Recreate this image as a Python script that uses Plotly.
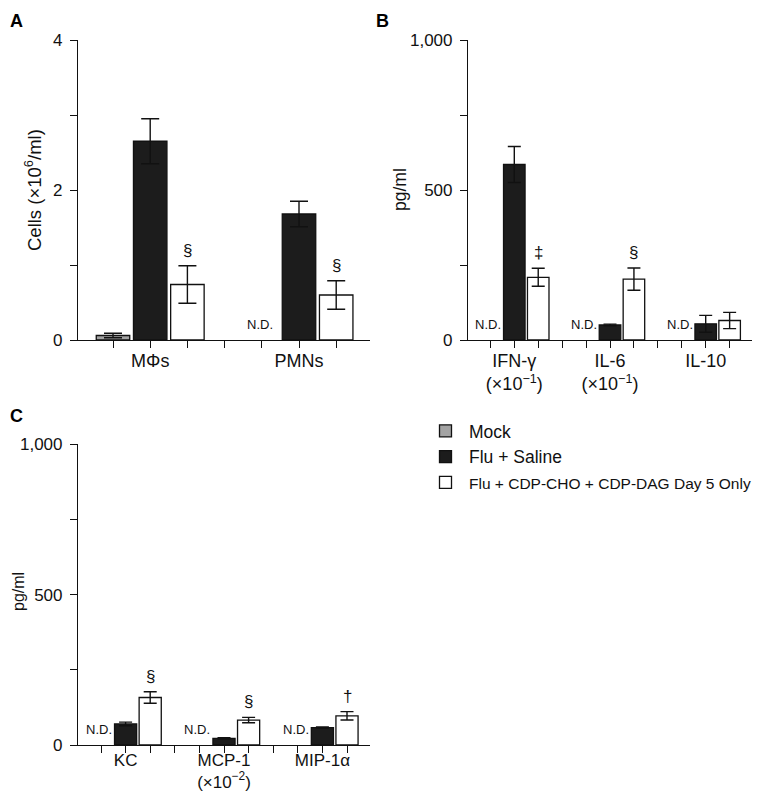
import plotly.graph_objects as go

FONT = "Liberation Sans, Arial, Helvetica, sans-serif"

series_names = ["Mock", "Flu + Saline", "Flu + CDP-CHO + CDP-DAG Day 5 Only"]
series_fill = ["#a3a3a3", "#1c1c1c", "#ffffff"]

# Panel A: BAL cells
cats_A = ["MΦs", "PMNs"]
mock_A = [0.06, None]
mock_A_err = [0.03, None]
flu_A = [2.65, 1.68]
flu_A_err = [0.30, 0.17]
cdp_A = [0.74, 0.60]
cdp_A_err = [0.25, 0.19]
sig_A = ["§", "§"]

# Panel B: cytokines
cats_B = ["IFN-γ<br>(×10<sup>−1</sup>)", "IL-6<br>(×10<sup>−1</sup>)", "IL-10"]
mock_B = [None, None, None]
mock_B_err = [None, None, None]
flu_B = [585, 50, 54]
flu_B_err = [60, 3, 28]
cdp_B = [209, 203, 65]
cdp_B_err = [30, 37, 27]
sig_B = ["‡", "§", ""]

# Panel C: chemokines
cats_C = ["KC", "MCP-1<br>(×10<sup>−2</sup>)", "MIP-1α"]
mock_C = [None, None, None]
mock_C_err = [None, None, None]
flu_C = [70, 22, 58]
flu_C_err = [6, 2, 2]
cdp_C = [158, 83, 97]
cdp_C_err = [19, 9, 14]
sig_C = ["§", "§", "†"]

# The page is 760x799 and the browser body keeps an 8px margin,
# so the figure is sized to fit inside it and positions are page pixels minus 8.
OFF = 8
W, H = 760 - 2 * OFF, 799 - 2 * OFF


def px_x(p):
    return min(1.0, max(0.0, (p - OFF) / W))


def px_y(p):
    return min(1.0, max(0.0, 1 - (p - OFF) / H))


fig = go.Figure()
annotations = []

panels = [
    ("x", "y", cats_A, [mock_A, flu_A, cdp_A], [mock_A_err, flu_A_err, cdp_A_err], sig_A, True, 9),
    ("x2", "y2", cats_B, [mock_B, flu_B, cdp_B], [mock_B_err, flu_B_err, cdp_B_err], sig_B, False, 6.5),
    ("x3", "y3", cats_C, [mock_C, flu_C, cdp_C], [mock_C_err, flu_C_err, cdp_C_err], sig_C, False, 6.5),
]

for xa, ya, cats, vals, errs, sigs, show_leg, capw in panels:
    ng = len(cats)
    for s in range(3):
        xs = [g * 4 + s for g in range(ng)]
        name = series_names[s]
        if s == 2:
            name = '<span style="font-size:15.5px">' + name + "</span>"
        fig.add_trace(go.Bar(
            x=xs, y=vals[s], width=0.9, name=name,
            xaxis=xa, yaxis=ya, showlegend=show_leg, legendgroup=str(s),
            marker=dict(color=series_fill[s], line=dict(color="#111111", width=1.3)),
            error_y=dict(type="data", array=errs[s], visible=True, color="#111111",
                         thickness=1.4, width=capw),
        ))
    for g in range(ng):
        if vals[0][g] is None:
            annotations.append(dict(
                x=g * 4, y=0, xref=xa, yref=ya, text="N.D.", showarrow=False,
                yanchor="bottom", xanchor="center", yshift=6, xshift=-2,
                font=dict(family=FONT, size=13, color="#111111")))
        if sigs[g]:
            annotations.append(dict(
                x=g * 4 + 2, y=vals[2][g] + errs[2][g], xref=xa, yref=ya, text=sigs[g],
                showarrow=False, yanchor="bottom", xanchor="center", yshift=4,
                font=dict(family=FONT, size=17, color="#111111")))


def xaxis_cfg(domain, cats, rng, fsize=18, standoff=-3):
    # labelled major ticks at the middle bar of each group, unlabelled minor ticks at every bar slot
    tickvals = [g * 4 + 1 for g in range(len(cats))]
    return dict(domain=domain, range=rng, tickmode="array", tickvals=tickvals, ticktext=cats,
                ticks="outside", ticklen=7, tickwidth=1.2, tickcolor="#111111",
                minor=dict(tick0=0, dtick=1, ticks="outside", ticklen=7, tickwidth=1.2,
                           tickcolor="#111111", showgrid=False),
                showline=True, linecolor="#111111", linewidth=1.2, tickangle=0,
                automargin=False,
                showgrid=False, zeroline=False, fixedrange=True, ticklabelstandoff=standoff,
                tickfont=dict(family=FONT, size=fsize, color="#111111"))


def yaxis_cfg(domain, rng, dtick, anchor, fmt=None):
    d = dict(domain=domain, range=rng, dtick=dtick, tick0=0, anchor=anchor,
             ticks="outside", ticklen=7, tickwidth=1.2, tickcolor="#111111",
             showline=True, linecolor="#111111", linewidth=1.2, automargin=False,
             showgrid=False, zeroline=False, fixedrange=True, ticklabelstandoff=4,
             minor=dict(dtick=dtick / 2, ticks="outside", ticklen=7, tickwidth=1.2,
                        tickcolor="#111111", showgrid=False),
             tickfont=dict(family=FONT, size=17, color="#111111"))
    if fmt:
        d["tickformat"] = fmt
    return d


def rng_for(left_px, right_px, pos0_px, unit):
    return [(left_px - pos0_px) / unit, (right_px - pos0_px) / unit]


dom_x_left = [px_x(78), px_x(370)]
dom_x_right = [px_x(468), px_x(760)]
dom_y_top = [px_y(340), px_y(40)]
dom_y_bot = [px_y(745), px_y(444.3)]

fig.update_layout(
    template="none",
    width=W, height=H,
    margin=dict(l=0, r=0, t=0, b=0, autoexpand=False),
    paper_bgcolor="white", plot_bgcolor="white",
    barmode="overlay",
    font=dict(family=FONT, size=16, color="#111111"),
    xaxis=dict(**xaxis_cfg(dom_x_left, cats_A, rng_for(78, 370, 113, 37.2)), anchor="y"),
    yaxis=yaxis_cfg(dom_y_top, [0, 4], 2, "x"),
    xaxis2=dict(**xaxis_cfg(dom_x_right, cats_B, rng_for(468, 760, 491, 24.6)), anchor="y2"),
    yaxis2=yaxis_cfg(dom_y_top, [0, 1000], 500, "x2", ","),
    xaxis3=dict(**xaxis_cfg(dom_x_left, cats_C, rng_for(78, 370, 101, 24.6), 17, -8), anchor="y3"),
    yaxis3=yaxis_cfg(dom_y_bot, [0, 1000], 500, "x3", ","),
    legend=dict(x=px_x(422), y=px_y(413), xanchor="left", yanchor="top",
                font=dict(family=FONT, size=17.5, color="#111111"),
                bgcolor="rgba(0,0,0,0)", borderwidth=0, traceorder="normal",
                itemwidth=37, itemclick=False, itemdoubleclick=False),
    showlegend=True,
)

# Panel letters
for letter, xp, yp in [("A", 5, 9), ("B", 374, 9), ("C", 5, 404)]:
    annotations.append(dict(x=px_x(xp), y=px_y(yp), xref="paper", yref="paper",
                            xanchor="left", yanchor="top", text="<b>" + letter + "</b>",
                            showarrow=False, font=dict(family=FONT, size=18, color="#000000")))

# Axis titles
for txt, xp, yc, fs in [("Cells (×10<sup>6</sup>/ml)", 33, 190, 18.5),
                        ("pg/ml", 400, 190, 17.5),
                        ("pg/ml", 18, 592, 16)]:
    annotations.append(dict(x=px_x(xp), y=px_y(yc), xref="paper", yref="paper",
                            xanchor="center", yanchor="middle", text=txt, textangle=-90,
                            showarrow=False, font=dict(family=FONT, size=fs, color="#111111")))

fig.update_layout(annotations=annotations)
fig.write_html("out.html")
